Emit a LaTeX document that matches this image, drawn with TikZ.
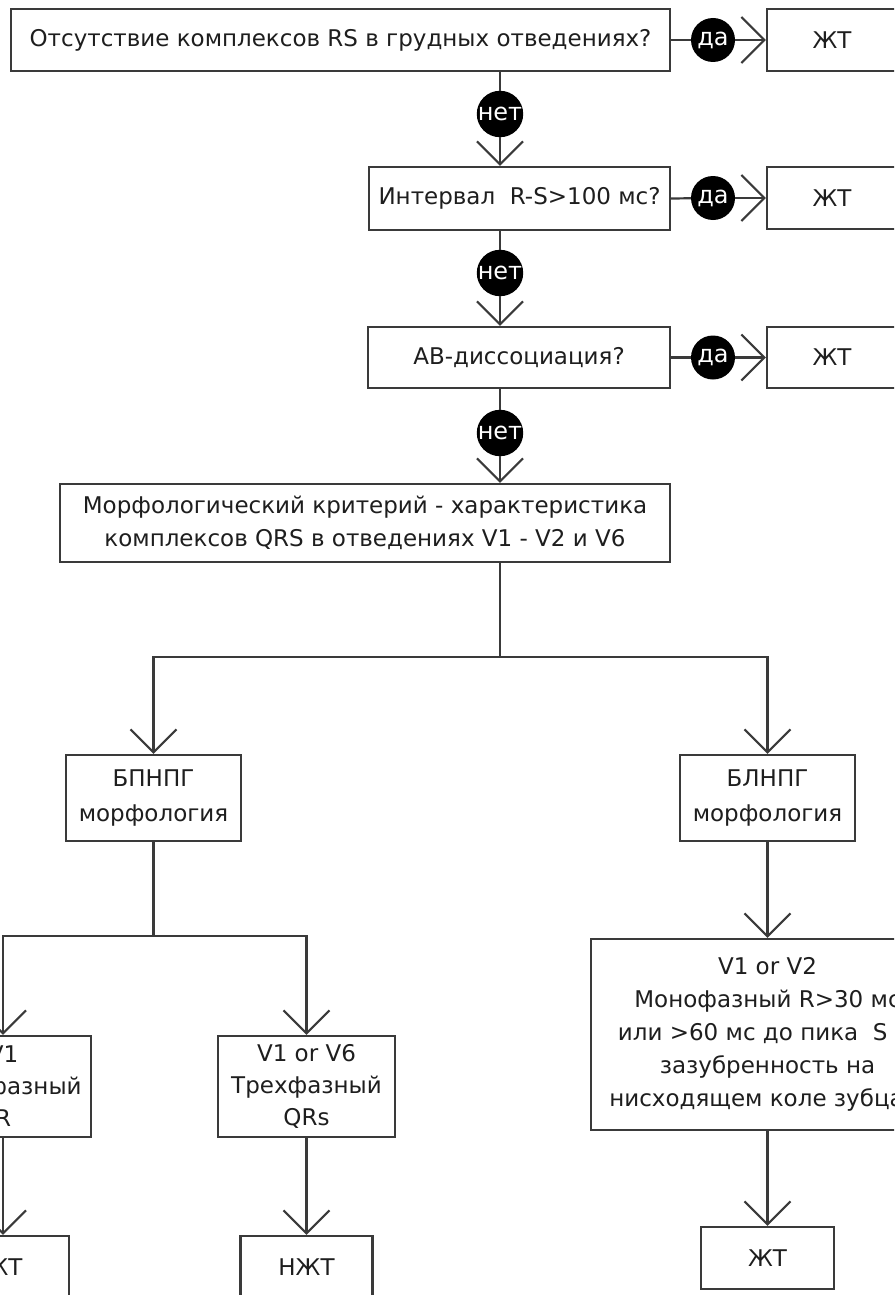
\documentclass[tikz,border=0pt]{standalone}
\usepackage{fontspec}
\setmainfont{DejaVu Sans}
\usetikzlibrary{arrows.meta}
\definecolor{ln}{HTML}{3A3A3A}
\definecolor{tx}{HTML}{1E1E1E}
\begin{document}
\begin{tikzpicture}[x=1pt,y=-1pt,
  box/.style={draw=ln, line width=2.2pt, fill=white, inner sep=0pt, align=center, text=tx, font=\fontsize{23}{33}\selectfont},
  lbl/.style={circle, fill=black, inner sep=0pt, minimum size=44pt, text=white, font=\fontsize{24}{24}\selectfont},
  con/.style={draw=ln, line width=2.2pt},
  arr/.style={con, -{Straight Barb[length=23pt,width=46pt]}},
]
\useasboundingbox (0,0) rectangle (894,1295);
\clip (0,0) rectangle (894,1295);
% row 1
\node[box, minimum width=659pt, minimum height=62pt] (q1) at (340.5,40) {Отсутствие комплексов RS в грудных отведениях?};
\node[box, minimum width=130pt, minimum height=62pt] (r1) at (832,40) {ЖТ};
\node[lbl] (d1) at (713,40) {да};
% row 2
\node[box, minimum width=301pt, minimum height=63pt] (q2) at (519.5,198.5) {Интервал\ \ R-S>100 мс?};
\node[box, minimum width=130pt, minimum height=62pt] (r2) at (832,198) {ЖТ};
\node[lbl] (d2) at (713,198) {да};
% row 3
\node[box, minimum width=302pt, minimum height=61pt] (q3) at (519,357.5) {АВ-диссоциация?};
\node[box, minimum width=130pt, minimum height=61pt] (r3) at (832,357.5) {ЖТ};
\node[lbl] (d3) at (713,357.5) {да};
% no labels
\node[lbl] (n1) at (500,114) {нет};
\node[lbl] (n2) at (500,273) {нет};
\node[lbl] (n3) at (500,433) {нет};
% morphology
\node[box, minimum width=610pt, minimum height=78pt] (q4) at (365,523) {Морфологический критерий - характеристика\\комплексов QRS в отведениях V1 - V2 и V6};
\coordinate (j1) at (500,657);
\node[box, minimum width=175pt, minimum height=86pt, font=\fontsize{23}{35}\selectfont] (b1) at (153.5,798) {БПНПГ\\морфология};
\node[box, minimum width=175pt, minimum height=86pt, font=\fontsize{23}{35}\selectfont] (b2) at (767.5,798) {БЛНПГ\\морфология};
\coordinate (j2) at (153.5,936);
\node[box, minimum width=176pt, minimum height=101pt, font=\fontsize{23}{32}\selectfont] (c1) at (3,1086.5) {V1\\Монофазный\\R};
\node[box, minimum width=177pt, minimum height=101pt, font=\fontsize{23}{32}\selectfont] (c2) at (306.5,1086.5) {V1 or V6\\Трехфазный\\QRs};
\node[box, minimum width=132pt, minimum height=62pt] (e1) at (3,1267) {ЖТ};
\node[box, minimum width=132pt, minimum height=62pt] (e2) at (306.5,1267) {НЖТ};
\node[box, minimum width=353pt, minimum height=191pt] (c3) at (767.5,1034.5) {V1 or V2\\Монофазный R>30 мс\\или >60 мс до пика\ \ S\ \ и\\зазубренность на\\нисходящем коле зубца S};
\node[box, minimum width=133pt, minimum height=62pt] (e3) at (767.5,1258) {ЖТ};
% connectors
\draw[con] (q1.east) -- (d1);
\draw[arr] (d1) -- (r1.west);
\draw[con] (q2.east) -- (d2);
\draw[arr] (d2) -- (r2.west);
\draw[con] (q3.east) -- (d3);
\draw[arr] (d3) -- (r3.west);
\draw[con] (n1 |- q1.south) -- (n1);
\draw[arr] (n1) -- (n1 |- q2.north);
\draw[con] (n2 |- q2.south) -- (n2);
\draw[arr] (n2) -- (n2 |- q3.north);
\draw[con] (n3 |- q3.south) -- (n3);
\draw[arr] (n3) -- (n3 |- q4.north);
\draw[con] (j1 |- q4.south) -- (j1);
\draw[arr] (j1) -| (b1.north);
\draw[arr] (j1) -| (b2.north);
\draw[con] (b1.south) -- (j2);
\draw[arr] (j2) -| (c1.north);
\draw[arr] (j2) -| (c2.north);
\draw[arr] (c1.south) -- (e1.north);
\draw[arr] (c2.south) -- (e2.north);
\draw[arr] (b2.south) -- (c3.north);
\draw[arr] (c3.south) -- (e3.north);
\end{tikzpicture}
\end{document}
